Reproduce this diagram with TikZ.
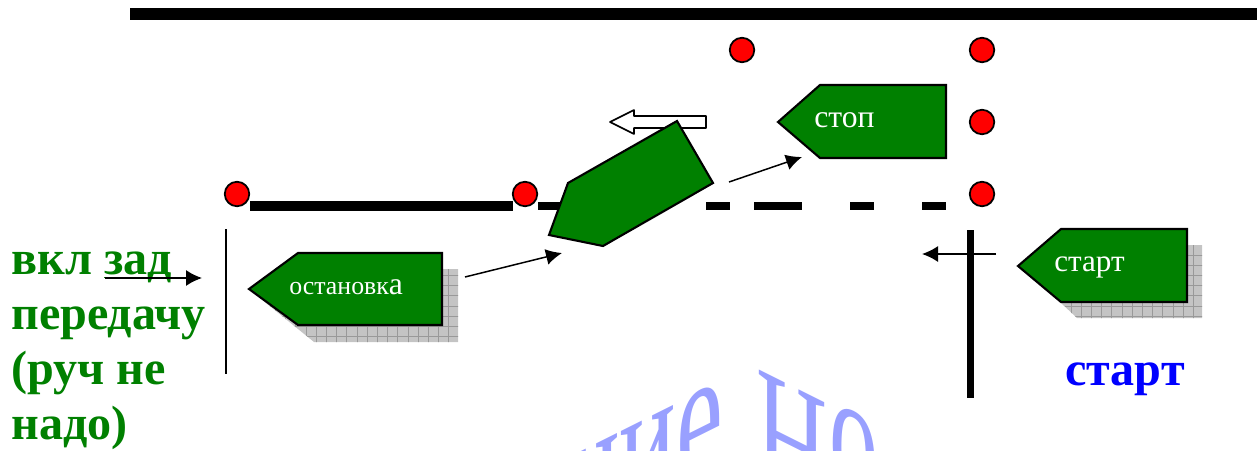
\documentclass[tikz,border=0pt]{standalone}
\usepackage{fontspec}
\setmainfont{Liberation Serif}
\usetikzlibrary{arrows.meta, positioning}
\definecolor{cab_green}{RGB}{0,128,0}
\definecolor{mark_blue}{RGB}{153,160,255}
\tikzset{
	stopdot/.style={circle,draw=black,fill=red,line width=1pt,minimum size=24.5*0.02cm,inner sep=0pt},
	cab/.style={draw=black,fill=cab_green,line width=1.2pt,line join=miter},
	gridline/.style={draw=black!40,line width=0.5pt,xstep=10.2,ystep=10.2},
	cabtext/.style={text=white,anchor=base west,inner sep=0pt},
	lane/.style={line width=7.5*0.02cm},
	bigtext/.style={font=\bfseries\fontsize{27.4}{31.3}\selectfont,inner sep=0pt},
	marktext/.style={text=mark_blue,anchor=base west,inner sep=0pt},
	moveline/.style={-{Latex[length=16*0.02cm,width=16*0.02cm]},line width=0.85pt},
}
\begin{document}
\begin{tikzpicture}[x=0.02cm,y=-0.02cm,line join=round]
		\useasboundingbox (0,0) rectangle (1257,450);
		% lanes
		\draw[line width=12*0.02cm] (130,14) -- (1257,14);
		\draw[lane,line width=10*0.02cm] (250,206) -- (513,206);
		\foreach\a/\b in {538/560,706/730,754/802,850/874,922/946}
		{
			\draw[lane] (\a,206) -- (\b,206);
		}
		\draw[line width=1.4pt] (226,229) -- (226,374);
		\draw[line width=7*0.02cm] (970,230) -- (970,398);
		% dots
		\foreach\n/\x/\y in {a/237/194,b/525/194,c/982/194,d/982/122,e/982/50,f/742/50}
		{
			\node[stopdot] (dot\n) at (\x,\y) {};
		}
		% watermark
		\begin{scope}
			\clip (0,0) rectangle (1257,450);
			\node[marktext,font=\fontsize{60}{60}\selectfont,yslant=0.5,yscale=1.8] (markl) at (563,548) {ние};
			\node[marktext,font=\fontsize{56}{56}\selectfont,yslant=-0.5,yscale=1.8] (markh) at (756,484) {Н};
			\node[marktext,font=\fontsize{56}{56}\selectfont,yslant=-0.5,yscale=1.8] (marko) at (829,482) {о};
		\end{scope}
		% hollow arrow
		\draw[line width=0.9pt,fill=white] (610,122) -- (634,110) -- (634,116) -- (706,116) -- (706,128) -- (634,128) -- (634,134) -- cycle;
		% shadows
		\begin{scope}
			\fill[black!23] (442,269) -- (458,269) -- (458,342) -- (314,342) -- (266,303) -- (300,325) -- (442,325) -- cycle;
			\clip (442,269) -- (458,269) -- (458,342) -- (314,342) -- (266,303) -- (300,325) -- (442,325) -- cycle;
			\begin{scope}[y=0.02cm]
				\draw[gridline] (260,-260) grid (460,-345);
			\end{scope}
		\end{scope}
		\begin{scope}
			\fill[black!23] (1187,245) -- (1202,245) -- (1202,318) -- (1077,318) -- (1060,302) -- (1187,302) -- cycle;
			\clip (1187,245) -- (1202,245) -- (1202,318) -- (1077,318) -- (1060,302) -- (1187,302) -- cycle;
			\begin{scope}[y=0.02cm]
				\draw[gridline] (1050,-240) grid (1205,-320);
			\end{scope}
		\end{scope}
		% cabs
		\draw[cab] (249,289) -- (298,253) -- (442,253) -- (442,325) -- (298,325) -- cycle;
		\draw[cab] (778,122) -- (820,85) -- (946,85) -- (946,158) -- (820,158) -- cycle;
		\draw[cab] (1018,266) -- (1061,229) -- (1187,229) -- (1187,302) -- (1061,302) -- cycle;
		\draw[cab] (549,235) -- (568,183) -- (677,121) -- (713,183) -- (603,246) -- cycle;
		% labels
		\node[cabtext,font=\fontsize{18}{18}\selectfont] (lstop) at (814,127) {стоп};
		\node[cabtext,font=\fontsize{17.7}{18}\selectfont] (lstart) at (1054,271) {старт};
		\node[cabtext,font=\fontsize{14.7}{18}\selectfont] (lhalt) at (289,294) {остановк{\fontsize{18}{18}\selectfont а}};
		\node[bigtext,text=blue,anchor=base] (lblue) at (1125,385) {старт};
		\node[bigtext,text=cab_green,anchor=north west,align=left] (lgreen) at (11,252) {вкл \underline{\smash{зад}}\\передачу\\(руч не\\надо)};
		% moves
		\coordinate (m1a) at (105,278);
		\coordinate (m1b) at (202,278);
		\coordinate (m2a) at (465,277);
		\coordinate (m2b) at (562,253);
		\coordinate (m3a) at (729,182);
		\coordinate (m3b) at (802,157);
		\coordinate (m4a) at (996,254);
		\coordinate (m4b) at (922,254);
		\draw[moveline] (m1a) -- (m1b);
		\draw[moveline] (m2a) -- (m2b);
		\draw[moveline] (m3a) -- (m3b);
		\draw[moveline] (m4a) -- (m4b);
	\end{tikzpicture}
\end{document}
